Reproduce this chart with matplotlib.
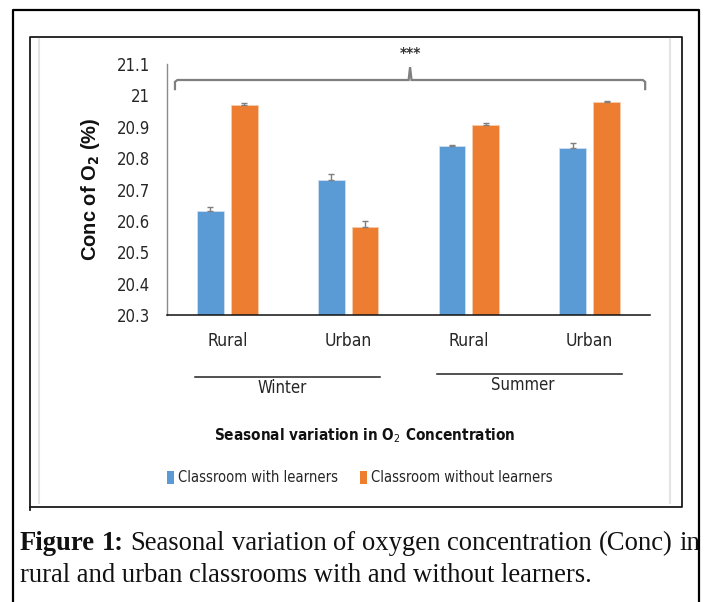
import matplotlib
matplotlib.use('Agg')
import matplotlib.pyplot as plt
import matplotlib.transforms as mtransforms
from matplotlib.lines import Line2D
from matplotlib.patches import Patch
import numpy as np

# ---------------- data ----------------
categories = ['Rural', 'Urban', 'Rural', 'Urban']
seasons = ['Winter', 'Summer']
series_names = ['Classroom with learners', 'Classroom without learners']
with_learners = [20.630, 20.731, 20.840, 20.831]
with_err = [0.013, 0.017, 0.003, 0.016]
without_learners = [20.968, 20.581, 20.905, 20.978]
without_err = [0.008, 0.019, 0.007, 0.004]
yticks = [20.3, 20.4, 20.5, 20.6, 20.7, 20.8, 20.9, 21.0, 21.1]
ytick_labels = ['20.3', '20.4', '20.5', '20.6', '20.7', '20.8', '20.9', '21', '21.1']
title_text = 'Seasonal variation in O$_2$ Concentration'
ylabel_text = r'Conc of O$_\mathbf{2}$ (%)'
signif_text = '***'
caption_bold = 'Figure 1:'
caption_line1 = 'Seasonal variation of oxygen concentration (Conc) in'
caption_line2 = 'rural and urban classrooms with and without learners.'

BLUE = '#5B9BD5'
ORANGE = '#ED7D31'

plt.rcParams['font.family'] = ['DejaVu Sans']
plt.rcParams['font.stretch'] = 'condensed'
plt.rcParams['mathtext.fontset'] = 'custom'
plt.rcParams['mathtext.rm'] = 'DejaVu Sans'
plt.rcParams['mathtext.bf'] = 'DejaVu Sans:bold'

W, H = 707, 602
fig = plt.figure(figsize=(W / 100, H / 100), dpi=100)
fig.patch.set_facecolor('white')


def fx(px):
    return px / W


def fy(py):
    return 1 - py / H


def fline(xs, ys, **kw):
    fig.add_artist(Line2D([fx(v) for v in xs], [fy(v) for v in ys],
                          transform=fig.transFigure, **kw))


# ---------------- frames ----------------
fline([13, 13, 699, 699], [602, 10, 10, 602], color='black', lw=1.6)
fline([30, 30, 682, 682, 30], [510, 37, 37, 507, 507], color='#1a1a1a', lw=1.3)
fline([39, 39], [39, 503], color='#e3e3e3', lw=1.5)
fline([670, 670], [39, 503], color='#e3e3e3', lw=1.5)

# ---------------- axes ----------------
ax = fig.add_axes([fx(167), fy(315), (650 - 167) / W, (315 - 64) / H])
x = np.arange(len(categories))
bw = 0.22
off = 0.14
err_kw = dict(ecolor='#7f7f7f', capsize=2.3, elinewidth=1.0, capthick=1.0)
ax.bar(x - off, with_learners, bw, color=BLUE, edgecolor='#cfe0f1', linewidth=0.6,
       yerr=[[0] * len(with_err), with_err], error_kw=err_kw, label=series_names[0])
ax.bar(x + off, without_learners, bw, color=ORANGE, edgecolor='#f6cdb0', linewidth=0.6,
       yerr=[[0] * len(without_err), without_err], error_kw=err_kw, label=series_names[1])

ax.set_xlim(-0.5, len(categories) - 0.5)
ax.set_ylim(yticks[0], yticks[-1])
ax.set_yticks(yticks, ytick_labels)
ax.set_xticks(x, categories)
ax.tick_params(axis='y', length=0, pad=12, labelsize=12, labelcolor='#262626')
ax.tick_params(axis='x', length=0, pad=12, labelsize=12.5, labelcolor='#262626')
for s in ['top', 'right']:
    ax.spines[s].set_visible(False)
ax.spines['left'].set_color('#8a8a8a')
ax.spines['left'].set_linewidth(1.0)
ax.spines['bottom'].set_color('#111111')
ax.spines['bottom'].set_linewidth(1.1)

ax.set_ylabel(ylabel_text, fontsize=14.5, fontweight='bold', fontstretch='normal',
              family=['Liberation Sans', 'DejaVu Sans'], color='#111111',
              va='center')
ax.yaxis.set_label_coords((90 - 167) / (650 - 167), (315 - 189) / (315 - 64))

# ---------------- significance bracket ----------------
xl = -0.5 + 0.066
xr = len(categories) - 0.5 - 0.04
xm = (xl + xr) / 2
yb = 21.049
ax.plot([xl, xl, xl + 0.02, xm - 0.012, xm, xm + 0.012, xr - 0.02, xr, xr],
        [21.02, yb - 0.006, yb, yb, 21.09, yb, yb, yb - 0.006, 21.02],
        color='#7f7f7f', lw=1.6, clip_on=False, solid_joinstyle='miter')
ax.text(xm, 21.13, signif_text, ha='center', va='center', fontsize=11,
        fontweight='bold', color='#333333', clip_on=False)

# ---------------- season groups ----------------
trans = mtransforms.blended_transform_factory(ax.transData, fig.transFigure)
season_y_line = [377, 374]
season_y_text = [388, 385]
for i, name in enumerate(seasons):
    c = (x[2 * i] + x[2 * i + 1]) / 2
    ax.add_artist(Line2D([c - 0.765, c + 0.765], [fy(season_y_line[i])] * 2,
                         transform=trans, color='#222222', lw=1.1, clip_on=False))
    ax.text(c - 0.05, fy(season_y_text[i]), name, transform=trans, ha='center',
            va='center', fontsize=12, color='#262626', clip_on=False)

# ---------------- title & legend ----------------
fig.text(fx(365), fy(436), title_text, ha='center', va='center', fontsize=11,
         fontweight='bold', color='#111111')
handles = [Patch(facecolor=BLUE), Patch(facecolor=ORANGE)]
fig.legend(handles, series_names, loc='center', bbox_to_anchor=(fx(360), fy(478)),
           ncol=2, frameon=False, handlelength=0.45, handleheight=0.95,
           handletextpad=0.3, columnspacing=1.5, fontsize=10.5,
           labelcolor='#262626')

# ---------------- caption ----------------
fig.canvas.draw()
renderer = fig.canvas.get_renderer()
serif = ['Liberation Serif', 'DejaVu Serif']


def text_w(s, size, weight='normal'):
    t = fig.text(0, 0, s, fontsize=size, family=serif, fontweight=weight,
                 fontstretch='normal')
    w = t.get_window_extent(renderer).width
    t.remove()
    return w


fs = 18 * 572 / text_w(caption_line2, 18)
words = [(w, 'bold') for w in caption_bold.split()] + \
        [(w, 'normal') for w in caption_line1.split()]
widths = [text_w(w, fs, wt) for w, wt in words]
gap = (680 - sum(widths)) / (len(words) - 1)
cx = 20
for (w, wt), ww in zip(words, widths):
    fig.text(fx(cx), fy(550), w, fontsize=fs, family=serif, fontweight=wt,
             fontstretch='normal', ha='left', va='baseline', color='#111111')
    cx += ww + gap
fig.text(fx(20), fy(582), caption_line2, fontsize=fs, family=serif,
         fontstretch='normal', ha='left', va='baseline', color='#111111')

fig.savefig('out.png', dpi=100, facecolor='white')
